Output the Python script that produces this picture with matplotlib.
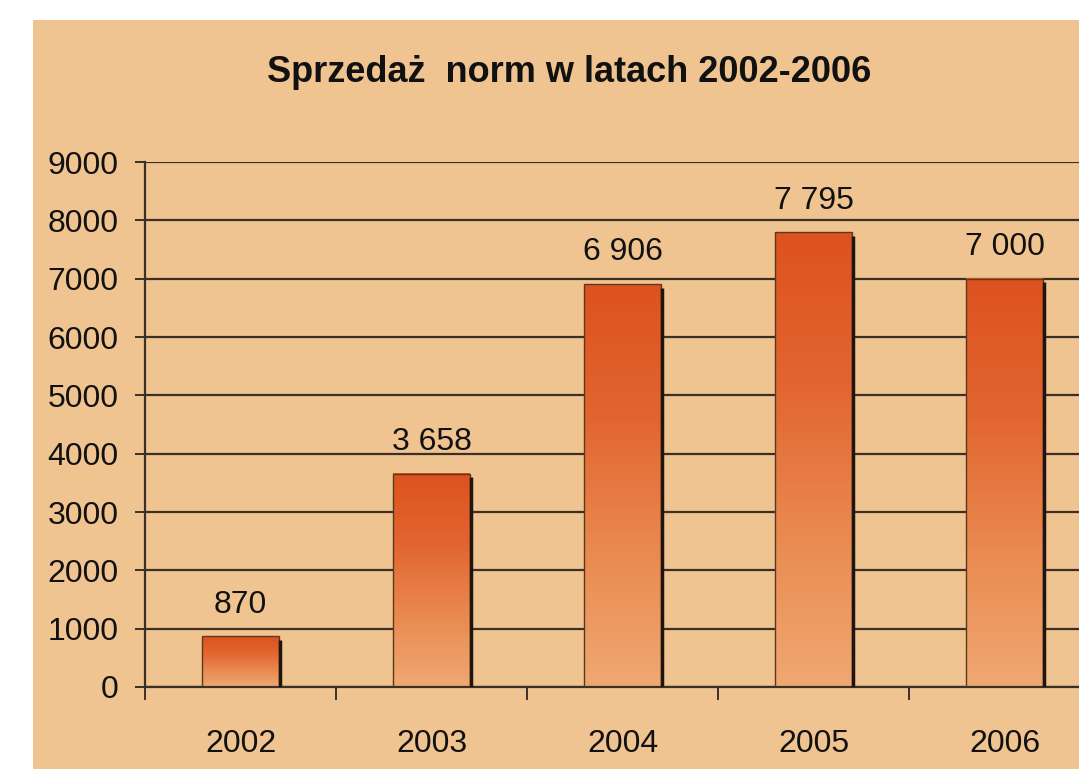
import matplotlib
matplotlib.use("Agg")
import matplotlib.pyplot as plt
import numpy as np
from matplotlib.colors import LinearSegmentedColormap
from matplotlib.patches import Rectangle

# dane
years = ["2002", "2003", "2004", "2005", "2006"]
sales = [870, 3658, 6906, 7795, 7000]
y_ticks = [0, 1000, 2000, 3000, 4000, 5000, 6000, 7000, 8000, 9000]

bg = "#F0C490"
line_col = "#3a3026"
plt.rcParams["font.family"] = ["Liberation Sans", "DejaVu Sans"]

fig = plt.figure(figsize=(10.79, 7.69), dpi=100, facecolor="white")
fig.patches.append(Rectangle((33 / 1079, 0), 1, 749 / 769, transform=fig.transFigure,
                             facecolor=bg, edgecolor="none", zorder=-10))

ax = fig.add_axes([145 / 1079, 82 / 769, 955 / 1079, 525 / 769])
ax.set_facecolor(bg)
ax.patch.set_alpha(0)

x = np.arange(len(years))
w = 0.4
cmap = LinearSegmentedColormap.from_list("bar", ["#F0A872", "#E98A50", "#E26530", "#DD521E"])
grad = np.linspace(0, 1, 256).reshape(-1, 1)

for xi, v in zip(x, sales):
    ax.imshow(grad, cmap=cmap, origin="lower", aspect="auto",
              extent=[xi - w / 2, xi + w / 2, 0, v], zorder=2)
    ax.bar(xi, v, width=w, facecolor="none", edgecolor="#5a3a1c", linewidth=1.0, zorder=3)
    ax.plot([xi + w / 2 + 0.008, xi + w / 2 + 0.008], [0, v - 60], color="#1e1510",
            linewidth=2.5, zorder=3, solid_capstyle="butt")
    ax.annotate(f"{v:,}".replace(",", " "), (xi, v), xytext=(0, 12), textcoords="offset points",
                ha="center", va="bottom", fontsize=23, color="#111111")

ax.set_xlim(-0.5, 4.5)
ax.set_ylim(0, 9000)
ax.set_yticks(y_ticks)
ax.yaxis.grid(True, color=line_col, linewidth=1.6)
ax.set_axisbelow(True)

ax.set_xticks(x)
ax.set_xticklabels(years)
ax.set_xticks(np.arange(-0.5, 5.0, 1.0), minor=True)
ax.tick_params(axis="x", which="major", length=0, pad=30, labelsize=23, labelcolor="#111111")
ax.tick_params(axis="x", which="minor", length=9, width=1.4, color=line_col, direction="out")
ax.tick_params(axis="y", length=7, width=1.4, color=line_col, pad=12, labelsize=23,
               labelcolor="#111111")

for s in ["top", "right"]:
    ax.spines[s].set_visible(False)
for s in ["left", "bottom"]:
    ax.spines[s].set_color(line_col)
    ax.spines[s].set_linewidth(1.6)

fig.text(569 / 1079, 1 - 72 / 769, "Sprzedaż  norm w latach 2002-2006", ha="center", va="center",
         fontsize=26, fontweight="bold", color="#111111")

fig.savefig("out.png", dpi=100, facecolor=fig.get_facecolor())
